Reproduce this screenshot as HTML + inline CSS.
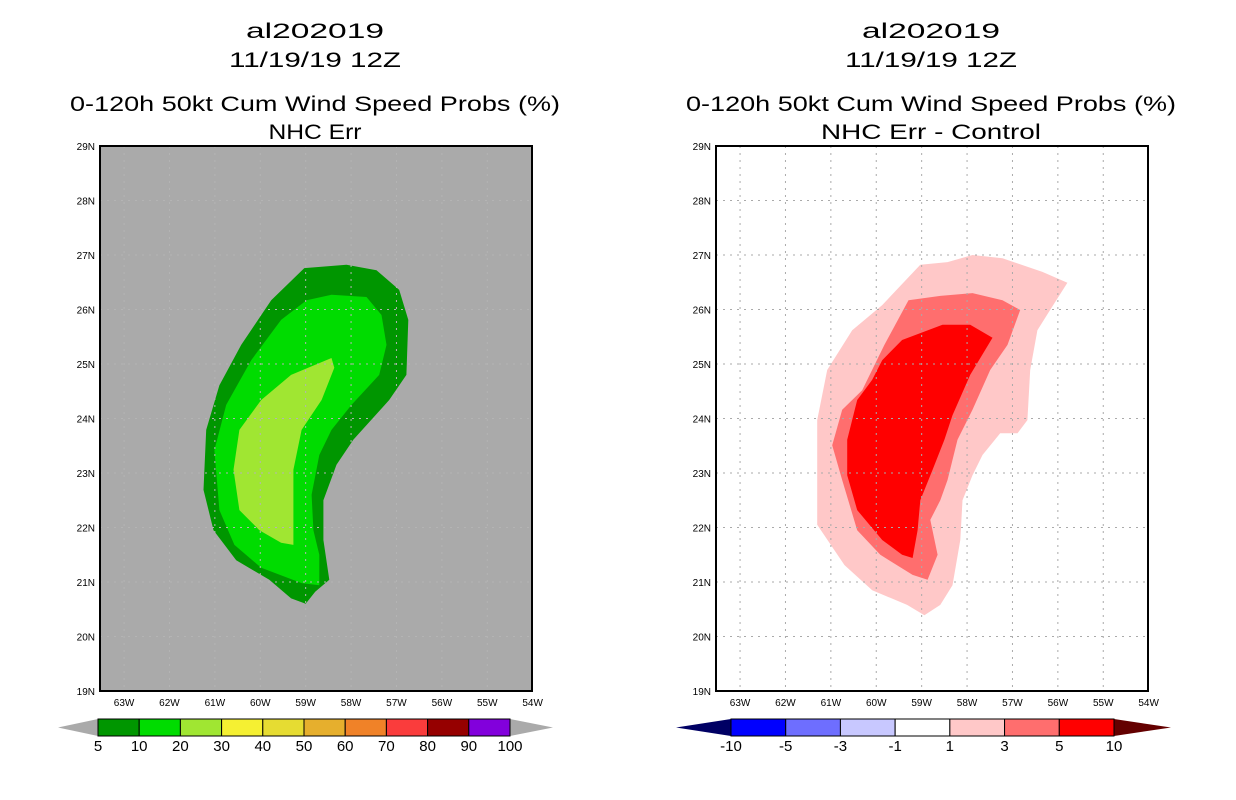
<!DOCTYPE html>
<html><head><meta charset="utf-8"><style>
html,body{margin:0;padding:0;background:#fff;}
svg{display:block;font-family:"Liberation Sans",sans-serif;}
</style></head><body>
<svg id="root" width="1236" height="800" xmlns="http://www.w3.org/2000/svg"></svg>
<script>
// ---- data ----
const lonTicks = [63,62,61,60,59,58,57,56,55,54];
const latTicks = [19,20,21,22,23,24,25,26,27,28,29];
const leftLevels = ['5','10','20','30','40','50','60','70','80','90','100'];
const leftColors = ['#009600','#00dc00','#a0e632','#f5f032','#e6dc32','#e6af2d','#f08228','#fa3c3c','#960000','#8200dc'];
const rightLevels = ['-10','-5','-3','-1','1','3','5','10'];
const rightColors = ['#0000ff','#6e6eff','#c8c8ff','#ffffff','#ffc8c8','#ff6e6e','#ff0000'];
// contour polygons as [lonW, lat]
const leftC5 = [[59.0,20.6],[59.32,20.7],[59.8,21.04],[60.53,21.4],[61.03,21.95],[61.25,22.69],[61.19,23.79],[60.9,24.61],[60.42,25.35],[59.76,26.17],[59.03,26.76],[58.1,26.82],[57.44,26.72],[56.94,26.36],[56.74,25.81],[56.78,24.8],[57.16,24.34],[57.95,23.61],[58.32,23.15],[58.61,22.5],[58.61,21.77],[58.48,21.04],[58.79,20.82]];
const leftC10 = [[58.7,20.94],[59.09,20.98],[59.98,21.26],[60.57,21.68],[60.9,22.32],[61.01,23.42],[60.75,24.25],[60.2,25.07],[59.54,25.81],[58.98,26.17],[58.43,26.27],[57.66,26.23],[57.33,25.9],[57.22,25.35],[57.38,24.8],[57.99,24.25],[58.43,23.79],[58.7,23.33],[58.87,22.6],[58.83,21.95],[58.7,21.5]];
const leftC20 = [[59.27,21.68],[59.54,21.72],[60.02,21.95],[60.46,22.32],[60.59,23.06],[60.46,23.79],[59.98,24.34],[59.32,24.8],[58.43,25.11],[58.37,24.93],[58.65,24.34],[59.09,23.79],[59.27,23.06],[59.27,22.14]];
const rightC1 = [[58.94,20.39],[59.32,20.58],[60.09,20.85],[60.7,21.31],[61.3,22.05],[61.3,23.97],[61.08,24.89],[60.53,25.62],[59.87,26.08],[59.03,26.82],[58.43,26.87],[57.88,27.0],[57.22,26.94],[56.34,26.69],[55.79,26.49],[56.17,25.99],[56.45,25.62],[56.61,24.89],[56.67,23.97],[56.89,23.73],[57.27,23.73],[57.66,23.33],[57.88,22.96],[58.1,22.5],[58.15,21.77],[58.32,20.94],[58.59,20.58]];
const rightC3 = [[58.87,21.04],[59.2,21.13],[59.91,21.5],[60.42,21.95],[60.75,22.87],[60.97,23.51],[60.75,24.16],[60.31,24.52],[59.82,25.35],[59.29,26.17],[58.59,26.25],[57.88,26.3],[57.22,26.17],[56.83,25.99],[57.11,25.35],[57.49,24.89],[57.88,24.16],[58.21,23.61],[58.43,22.87],[58.59,22.5],[58.81,22.14],[58.65,21.5]];
const rightC5 = [[59.2,21.44],[59.43,21.5],[59.87,21.77],[60.42,22.32],[60.64,22.96],[60.64,23.61],[60.42,24.34],[60.09,24.71],[59.87,25.07],[59.43,25.44],[58.54,25.72],[57.93,25.72],[57.44,25.48],[57.93,24.8],[58.32,24.06],[58.5,23.61],[58.76,23.06],[59.03,22.5],[59.09,21.95]];

const NS='http://www.w3.org/2000/svg';
const root=document.getElementById('root');
function mk(tag,attrs,parent){const e=document.createElementNS(NS,tag);for(const k in attrs)e.setAttribute(k,attrs[k]);(parent||root).appendChild(e);return e;}
function txt(x,y,s,size,anchor,parent,len){const t=mk('text',{x:x,y:y,'font-size':size,'text-anchor':anchor||'middle',fill:'#000'},parent);if(len){t.setAttribute('textLength',len);t.setAttribute('lengthAdjust','spacingAndGlyphs');}t.textContent=s;return t;}

function panel(x0,name,bg,titles,polys,colors){
  const g=mk('g',{});
  
  
  const W=432,H=545,y0=146;
  const sx=lon=>x0+(63.53-lon)*45.4;
  const sy=lat=>y0+H-(lat-19)*54.5;
  const cx=x0+215;
  const tl=[[cx,38,titles[0],138],[cx,67,titles[1],172],[cx,111,titles[2],490],[cx,139,titles[3],titles[4]]];
  tl.forEach((t,i)=>{const e=txt(t[0],t[1],t[2],21,'middle',g,t[3]);
    
    });
  const bgR=mk('rect',{x:x0,y:y0,width:W,height:H,fill:bg},g);
  
  
  polys.forEach((p,i)=>{const pl=mk('polygon',{points:p.map(q=>sx(q[0]).toFixed(1)+','+sy(q[1]).toFixed(1)).join(' '),fill:colors[i]},g);
    
    });
  const gridCol=bg==='#ffffff'?'#aaa':'#b4b4b4';
  lonTicks.forEach(l=>{const x=sx(l);if(x>x0+2&&x<x0+W-2){const ln=mk('line',{x1:x,y1:y0,x2:x,y2:y0+H,stroke:gridCol,'stroke-dasharray':'2,5','stroke-width':1},g);
    
    }
    const t=txt(x,y0+H+15,l+'W',10,'middle',g);
    
    });
  latTicks.forEach(l=>{const y=sy(l);if(y>y0+2&&y<y0+H-2){const ln=mk('line',{x1:x0,y1:y,x2:x0+W,y2:y,stroke:gridCol,'stroke-dasharray':'2,5','stroke-width':1},g);
    
    }
    const t=txt(x0-5,y+4,l+'N',10,'end',g);
    
    });
  const fr=mk('rect',{x:x0,y:y0,width:W,height:H,fill:'none',stroke:'#000','stroke-width':2},g);
  
  
}

function colorbar(x1,x2,tl,tr,levels,colors,lcol,rcol,name){
  const g=mk('g',{});
  
  
  const y=719,h=17,n=colors.length,w=(x2-x1)/n;
  const a=mk('polygon',{points:`${tl},${y+h/2} ${x1},${y} ${x1},${y+h}`,fill:lcol},g);
  
  
  const b=mk('polygon',{points:`${tr},${y+h/2} ${x2},${y} ${x2},${y+h}`,fill:rcol},g);
  
  
  colors.forEach((c,i)=>{const r=mk('rect',{x:x1+i*w,y:y,width:w,height:h,fill:c,stroke:'#000','stroke-width':1},g);
    
    });
  levels.forEach((l,i)=>{const t=txt(x1+i*w,y+h+15,l,15,'middle',g);
    
    });
}

panel(100,'left-panel','#aaaaaa',['al202019','11/19/19 12Z','0-120h 50kt Cum Wind Speed Probs (%)','NHC Err',93],[leftC5,leftC10,leftC20],[leftColors[0],leftColors[1],leftColors[2]]);
panel(716,'right-panel','#ffffff',['al202019','11/19/19 12Z','0-120h 50kt Cum Wind Speed Probs (%)','NHC Err - Control',220],[rightC1,rightC3,rightC5],[rightColors[4],rightColors[5],rightColors[6]]);
colorbar(98,510,58,553,leftLevels,leftColors,'#aaaaaa','#aaaaaa','left-colorbar');
colorbar(731,1114,676,1171,rightLevels,rightColors,'#000064','#640000','right-colorbar');
</script>
</body></html>
